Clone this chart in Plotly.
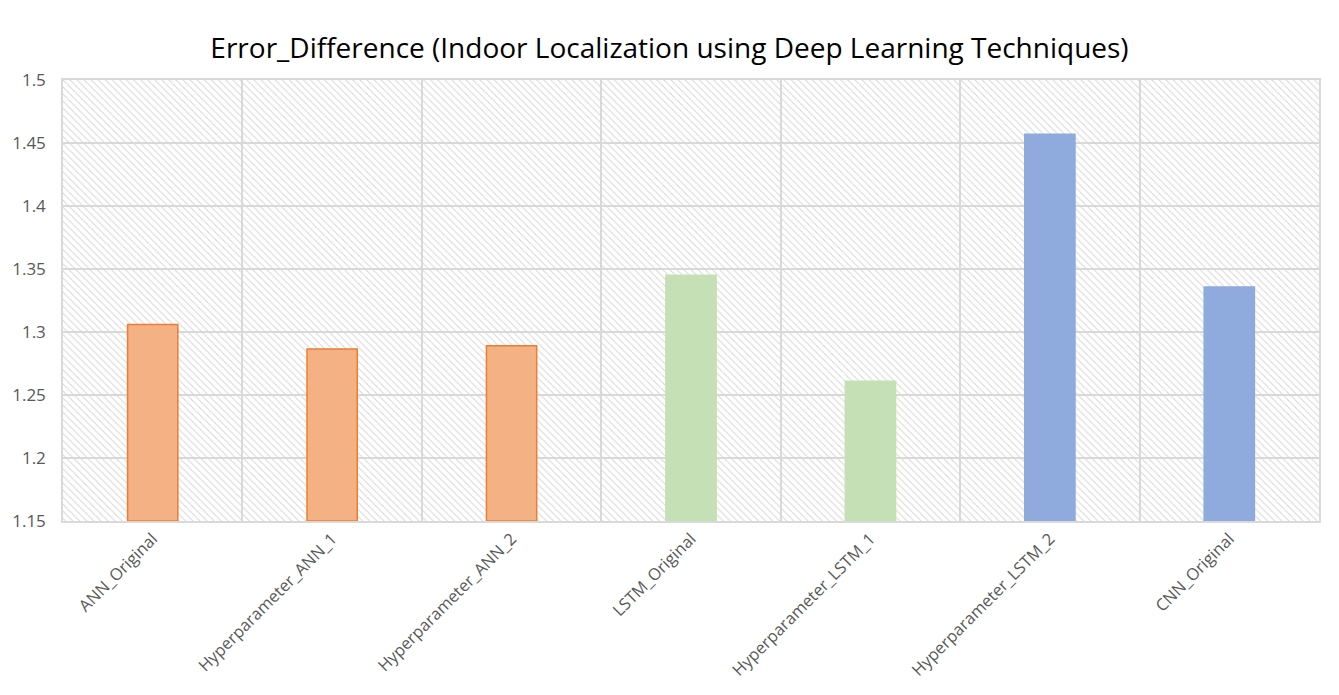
import plotly.graph_objects as go

categories = ["ANN_Original", "Hyperparameter_ANN_1", "Hyperparameter_ANN_2",
              "LSTM_Original", "Hyperparameter_LSTM_1", "Hyperparameter_LSTM_2",
              "CNN_Original"]
values = [1.306, 1.2865, 1.289, 1.345, 1.261, 1.457, 1.3357]
fill_colors = ["#F4B183", "#F4B183", "#F4B183", "#C5E0B4", "#C5E0B4", "#8FAADC", "#8FAADC"]
line_colors = ["#ED7D31", "#ED7D31", "#ED7D31", "#C5E0B4", "#C5E0B4", "#8FAADC", "#8FAADC"]
tick_vals = [1.15, 1.2, 1.25, 1.3, 1.35, 1.4, 1.45, 1.5]
tick_text = ["1.15", "1.2", "1.25", "1.3", "1.35", "1.4", "1.45", "1.5"]
y_min, y_max = 1.15, 1.5

fig = go.Figure()

# hatched plot-area background
fig.add_trace(go.Bar(
    x=categories, y=[y_max - y_min] * len(categories), base=y_min, width=1,
    marker=dict(color="rgba(0,0,0,0)", line=dict(width=0),
                pattern=dict(shape="\\", fillmode="replace", fgcolor="#d6d6d6",
                             bgcolor="rgba(0,0,0,0)", size=5, solidity=0.2)),
    hoverinfo="skip", showlegend=False))

fig.add_trace(go.Bar(
    x=categories, y=[v - y_min for v in values], base=y_min, width=0.28,
    marker=dict(color=fill_colors, line=dict(color=line_colors, width=1.5)),
    showlegend=False))

fig.update_layout(
    barmode="overlay",
    width=1339, height=695,
    margin=dict(l=61, r=20, t=80, b=174),
    paper_bgcolor="white", plot_bgcolor="white",
    title=dict(text="Error_Difference (Indoor Localization using Deep Learning Techniques)",
               x=0.5, xanchor="center", y=0.93, yanchor="middle",
               font=dict(family="Open Sans", size=28, color="#000000")),
    font=dict(family="Open Sans", color="#595959"),
)
fig.update_xaxes(
    tickangle=-45, tickfont=dict(size=16.5, color="#595959"),
    showgrid=True, gridcolor="#d9d9d9", gridwidth=1.5, tickson="boundaries",
    ticks="", showline=True, linecolor="#d9d9d9", linewidth=1.5, mirror=True,
)
fig.update_yaxes(
    range=[y_min, y_max], tickvals=tick_vals, ticktext=tick_text,
    tickfont=dict(size=17, color="#595959"), ticklabelstandoff=12,
    showgrid=True, gridcolor="#d9d9d9", gridwidth=1.5, zeroline=False,
    showline=True, linecolor="#d9d9d9", linewidth=1.5, mirror=True, ticks="",
)

fig.write_html("out.html")
